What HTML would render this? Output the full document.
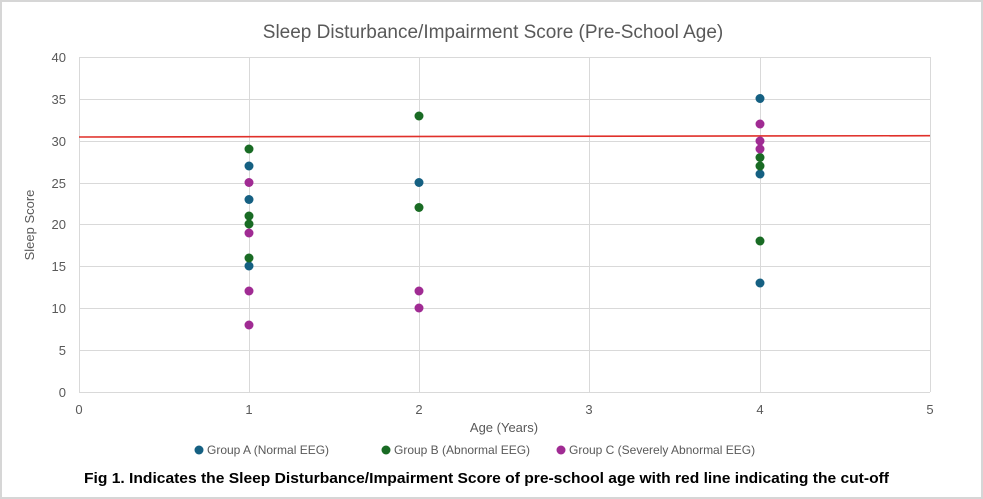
<!DOCTYPE html>
<html><head><meta charset="utf-8"><style>
html,body{margin:0;padding:0;background:#fff}
svg{display:block}
</style></head><body>
<svg width="983" height="499" viewBox="0 0 983 499" xmlns="http://www.w3.org/2000/svg" font-family="Liberation Sans, sans-serif">
<rect x="1" y="1" width="981" height="497" fill="#fff" stroke="#d6d6d6" stroke-width="2"/>
<text x="493" y="38" text-anchor="middle" font-size="19" fill="#595959">Sleep Disturbance/Impairment Score (Pre-School Age)</text>
<g stroke="#d9d9d9" stroke-width="1">
<line x1="79" y1="57.5" x2="930" y2="57.5"/>
<line x1="79" y1="99.5" x2="930" y2="99.5"/>
<line x1="79" y1="141.5" x2="930" y2="141.5"/>
<line x1="79" y1="183.5" x2="930" y2="183.5"/>
<line x1="79" y1="224.5" x2="930" y2="224.5"/>
<line x1="79" y1="266.5" x2="930" y2="266.5"/>
<line x1="79" y1="308.5" x2="930" y2="308.5"/>
<line x1="79" y1="350.5" x2="930" y2="350.5"/>
<line x1="79" y1="392.5" x2="930" y2="392.5"/>
<line x1="79.5" y1="57" x2="79.5" y2="392"/>
<line x1="249.5" y1="57" x2="249.5" y2="392"/>
<line x1="419.5" y1="57" x2="419.5" y2="392"/>
<line x1="589.5" y1="57" x2="589.5" y2="392"/>
<line x1="760.5" y1="57" x2="760.5" y2="392"/>
<line x1="930.5" y1="57" x2="930.5" y2="392"/>
</g>
<g font-size="13" fill="#595959" text-anchor="end">
<text x="66" y="62">40</text><text x="66" y="104">35</text><text x="66" y="146">30</text>
<text x="66" y="188">25</text><text x="66" y="229">20</text><text x="66" y="271">15</text>
<text x="66" y="313">10</text><text x="66" y="355">5</text><text x="66" y="397">0</text>
</g>
<g font-size="13" fill="#595959" text-anchor="middle">
<text x="79" y="414">0</text><text x="249" y="414">1</text><text x="419" y="414">2</text>
<text x="589" y="414">3</text><text x="760" y="414">4</text><text x="930" y="414">5</text>
<text x="504" y="432">Age (Years)</text>
</g>
<text transform="translate(34,225) rotate(-90)" text-anchor="middle" font-size="13" fill="#595959">Sleep Score</text>
<line x1="79" y1="137" x2="930" y2="135.7" stroke="#e0302a" stroke-width="1.6"/>
<g fill="#156082">
<circle cx="249" cy="166" r="4.5"/><circle cx="249" cy="199.5" r="4.5"/><circle cx="249" cy="266" r="4.5"/>
<circle cx="419" cy="182.5" r="4.5"/>
<circle cx="760" cy="98.5" r="4.5"/><circle cx="760" cy="174" r="4.5"/><circle cx="760" cy="283" r="4.5"/>
</g>
<g fill="#196b24">
<circle cx="249" cy="149" r="4.5"/><circle cx="249" cy="216" r="4.5"/><circle cx="249" cy="224" r="4.5"/><circle cx="249" cy="258" r="4.5"/>
<circle cx="419" cy="116" r="4.5"/><circle cx="419" cy="207.5" r="4.5"/>
<circle cx="760" cy="157.5" r="4.5"/><circle cx="760" cy="166" r="4.5"/><circle cx="760" cy="241" r="4.5"/>
</g>
<g fill="#a02b93">
<circle cx="249" cy="182.5" r="4.5"/><circle cx="249" cy="233" r="4.5"/><circle cx="249" cy="291" r="4.5"/><circle cx="249" cy="325" r="4.5"/>
<circle cx="419" cy="291" r="4.5"/><circle cx="419" cy="308" r="4.5"/>
<circle cx="760" cy="124" r="4.5"/><circle cx="760" cy="141" r="4.5"/><circle cx="760" cy="149" r="4.5"/>
</g>
<g font-size="12" fill="#595959">
<circle cx="199" cy="450" r="4.5" fill="#156082"/><text x="207" y="454">Group A (Normal EEG)</text>
<circle cx="386" cy="450" r="4.5" fill="#196b24"/><text x="394" y="454">Group B (Abnormal EEG)</text>
<circle cx="561" cy="450" r="4.5" fill="#a02b93"/><text x="569" y="454">Group C (Severely Abnormal EEG)</text>
</g>
<text x="84" y="483" font-size="14.5" font-weight="bold" fill="#000" textLength="805" lengthAdjust="spacingAndGlyphs">Fig 1. Indicates the Sleep Disturbance/Impairment Score of pre-school age with red line indicating the cut-off</text>
</svg>
</body></html>
